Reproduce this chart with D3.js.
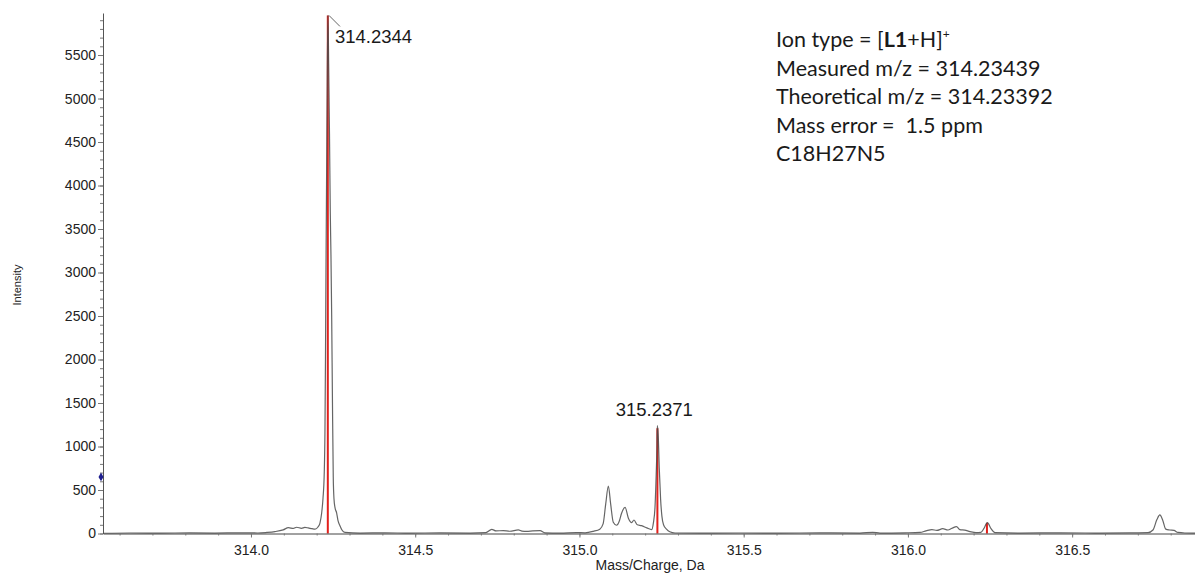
<!DOCTYPE html>
<html>
<head>
<meta charset="utf-8">
<script src="https://cdn.jsdelivr.net/npm/d3@7"></script>
<style>
  html, body { margin: 0; padding: 0; background: #fff; }
  svg { display: block; }
</style>
</head>
<body>
<svg id="chart" width="1195" height="574"></svg>
<script>
// Profile spectrum (m/z, intensity counts)
const profileMz = [
  313.550, 313.632, 313.723, 313.814, 313.890, 313.967, 314.021, 314.048, 314.073, 314.098,
  314.114, 314.129, 314.139, 314.154, 314.164, 314.174, 314.186, 314.195, 314.204, 314.210,
  314.2152, 314.2192, 314.2231, 314.2253, 314.2268, 314.2283, 314.2304, 314.2323, 314.2344, 314.2365,
  314.2390, 314.2414, 314.2435, 314.2457, 314.2481, 314.2505, 314.2527, 314.2557, 314.2609, 314.2648,
  314.2709, 314.2770, 314.2861, 314.332, 314.408, 314.484, 314.575, 314.667, 314.715, 314.733,
  314.746, 314.768, 314.788, 314.814, 314.825, 314.839, 314.858, 314.880, 314.895, 314.941,
  314.991, 315.017, 315.042, 315.062, 315.072, 315.080, 315.088, 315.095, 315.103, 315.113,
  315.122, 315.128, 315.139, 315.149, 315.159, 315.166, 315.176, 315.189, 315.205, 315.220,
  315.225, 315.230, 315.233, 315.236, 315.2371, 315.2399, 315.243, 315.247, 315.251, 315.256,
  315.265, 315.275, 315.291, 315.367, 315.489, 315.610, 315.732, 315.854, 315.893, 315.915,
  315.991, 316.037, 316.055, 316.073, 316.088, 316.106, 316.122, 316.134, 316.148, 316.158,
  316.173, 316.189, 316.207, 316.222, 316.231, 316.242, 316.253, 316.265, 316.341, 316.463,
  316.584, 316.676, 316.731, 316.746, 316.758, 316.767, 316.776, 316.785, 316.797, 316.810,
  316.822, 316.843, 316.874
];
const profileIntensity = [
  3, 6, 4, 7, 5, 8, 6, 12, 22, 42,
  67, 58, 72, 60, 70, 64, 55, 50, 75, 120,
  235, 400, 700, 1200, 2000, 3000, 4200, 5300, 5955, 5400,
  4600, 3700, 3200, 2500, 1500, 650, 400, 300, 235, 150,
  90, 40, 12, 5, 8, 4, 7, 5, 10, 48,
  30, 33, 26, 41, 28, 25, 30, 33, 8, 5,
  10, 8, 25, 50, 110, 340, 546, 340, 130, 95,
  150, 230, 300, 175, 125, 155, 100, 90, 65, 45,
  120, 300, 600, 1000, 1240, 1120, 750, 400, 200, 100,
  50, 20, 6, 4, 6, 5, 7, 5, 14, 5,
  8, 12, 30, 45, 35, 55, 40, 60, 80, 45,
  38, 22, 10, 12, 55, 125, 55, 10, 5, 8,
  5, 7, 10, 40, 160, 213, 150, 50, 40, 35,
  12, 6, 5
];

// Theoretical isotope pattern (red sticks)
const isotopeMz = [314.23392, 315.2373, 316.2406];
const isotopeIntensity = [5955, 1210, 125];

// Labelled centroids
const peakLabelMz = [314.2344, 315.2371];
const peakLabelIntensity = [5955, 1240];

// Axis ticks
const yTicks = [0, 500, 1000, 1500, 2000, 2500, 3000, 3500, 4000, 4500, 5000, 5500];
const xTicks = [314.0, 314.5, 315.0, 315.5, 316.0, 316.5];
const xDomain = [313.5495, 316.874];
const yDomain = [0, 5983];
const thresholdMarker = 650;

// Annotation lines
const infoLines = [
  [{t: "Ion type = ["}, {t: "L1", b: true}, {t: "+H]"}, {t: "+", sup: true}],
  [{t: "Measured m/z = 314.23439"}],
  [{t: "Theoretical m/z = 314.23392"}],
  [{t: "Mass error =  1.5 ppm"}],
  [{t: "C18H27N5"}]
];

const SANS = "'Liberation Sans', Arial, sans-serif";
const svg = d3.select("#chart");
const plotLeft = 103, plotRight = 1195, plotTop = 13, plotBottom = 533.5;

const x = d3.scaleLinear().domain(xDomain).range([plotLeft, plotRight]);
const y = d3.scaleLinear().domain(yDomain).range([plotBottom, plotTop]);

svg.append("defs").append("clipPath").attr("id", "plot")
  .append("rect").attr("x", plotLeft).attr("y", 0)
  .attr("width", plotRight - plotLeft).attr("height", plotBottom + 1);

const plot = svg.append("g").attr("clip-path", "url(#plot)");

// Red theoretical sticks
plot.selectAll("line.iso").data(isotopeMz).join("line")
  .attr("class", "iso")
  .attr("x1", d => x(d)).attr("x2", d => x(d))
  .attr("y1", y(0)).attr("y2", (d, i) => y(isotopeIntensity[i]))
  .attr("stroke", "#e3201b").attr("stroke-width", 2);

// Profile trace
const pts = profileMz.map((m, i) => [m, profileIntensity[i]]);
plot.append("path")
  .datum(pts)
  .attr("fill", "none")
  .attr("stroke", "#4a4a4a")
  .attr("stroke-opacity", 0.85)
  .attr("stroke-width", 1.2)
  .attr("d", d3.line().x(d => x(d[0])).y(d => y(d[1])).curve(d3.curveMonotoneX));

// Y axis
const yAxisG = svg.append("g").attr("transform", `translate(${plotLeft},0)`);
yAxisG.call(d3.axisLeft(y).tickValues(d3.range(0, 5901, 100)).tickSize(3).tickSizeOuter(0).tickFormat(""));
const yMajor = yAxisG.append("g")
  .call(d3.axisLeft(y).tickValues(yTicks).tickSize(5).tickPadding(2).tickSizeOuter(0)
    .tickFormat(d3.format("d")));
yMajor.select("path.domain").remove();
yAxisG.selectAll("path.domain").attr("stroke", "#555");
yAxisG.selectAll("line").attr("stroke", "#777");
yAxisG.selectAll("text").attr("font-size", 14).attr("fill", "#222")
  .attr("font-family", SANS);

// X axis
const xAxisG = svg.append("g").attr("transform", `translate(0,${plotBottom})`);
xAxisG.call(d3.axisBottom(x).tickValues(d3.range(313.6, 316.85, 0.1)).tickSize(2).tickSizeOuter(0).tickFormat(""));
const xMajor = xAxisG.append("g").call(d3.axisBottom(x).tickValues(xTicks).tickSize(4).tickPadding(8)
  .tickSizeOuter(0).tickFormat(d3.format(".1f")));
xMajor.select("path.domain").remove();
xAxisG.selectAll("path.domain").attr("stroke", "#444");
xAxisG.selectAll("line").attr("stroke", "#777");
xAxisG.selectAll("text").attr("font-size", 14).attr("fill", "#222")
  .attr("font-family", SANS);

// Axis titles
svg.append("text")
  .attr("transform", "translate(21,285) rotate(-90)")
  .attr("text-anchor", "middle").attr("font-size", 11).attr("fill", "#222")
  .attr("font-family", SANS)
  .text("Intensity");
svg.append("text")
  .attr("x", 650).attr("y", 570)
  .attr("text-anchor", "middle").attr("font-size", 14).attr("fill", "#222")
  .attr("font-family", SANS)
  .text("Mass/Charge, Da");

// Threshold marker on the intensity axis
svg.append("path")
  .attr("d", d3.symbol().type(d3.symbolDiamond).size(22))
  .attr("transform", `translate(${plotLeft - 2},${y(thresholdMarker)})`)
  .attr("fill", "#1f1f8f");

// Peak labels
const fmt = d3.format(".4f");
// main peak: leader line to an offset label
svg.append("line")
  .attr("x1", x(peakLabelMz[0]) + 1).attr("y1", y(peakLabelIntensity[0]))
  .attr("x2", x(peakLabelMz[0]) + 12).attr("y2", y(peakLabelIntensity[0]) + 11)
  .attr("stroke", "#666").attr("stroke-width", 1);
svg.append("text")
  .attr("x", x(peakLabelMz[0]) + 7).attr("y", y(peakLabelIntensity[0]) + 28)
  .attr("font-size", 18.5).attr("fill", "#1a1a1a").attr("font-family", SANS)
  .text(fmt(peakLabelMz[0]));
svg.append("text")
  .attr("x", x(peakLabelMz[1]) - 3).attr("y", y(peakLabelIntensity[1]) - 10)
  .attr("text-anchor", "middle")
  .attr("font-size", 18.5).attr("fill", "#1a1a1a").attr("font-family", SANS)
  .text(fmt(peakLabelMz[1]));

// Ion annotation block
const info = svg.append("text")
  .attr("font-family", "Lato, 'Open Sans', sans-serif")
  .attr("font-size", 21.5).attr("fill", "#1a1a1a")
  .attr("xml:space", "preserve")
  .style("white-space", "pre");
infoLines.forEach((parts, li) => {
  parts.forEach((p, pi) => {
    const ts = info.append("tspan").text(p.t);
    if (pi === 0) ts.attr("x", 776).attr("y", 47 + li * 28.6);
    if (p.b) ts.attr("font-weight", "bold");
    if (p.sup) ts.attr("font-size", 12).attr("dy", -9);
  });
});
</script>
</body>
</html>
